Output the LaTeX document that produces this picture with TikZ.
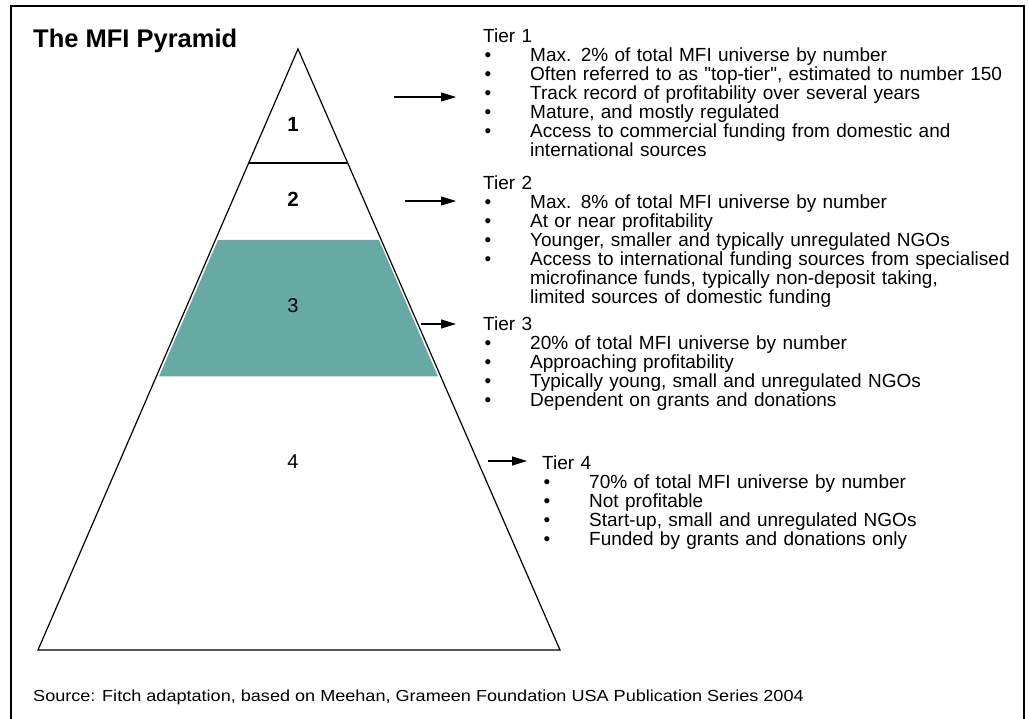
\documentclass[tikz,border=0pt]{standalone}
\usepackage{fontspec}
\setmainfont{Liberation Sans}
% same family without the TeX input mapping, for straight quotes
\newfontfamily\plainq{Liberation Sans}
\usetikzlibrary{arrows.meta}

% one bullet line of a tier description; wrapped lines stay under the text
\newcommand\tieritem[1]{\par\noindent
  \makebox[47pt][l]{\hspace{1.5pt}\textbullet}\parbox[t]{520pt}{\raggedright #1}}
% straight double quote
\newcommand\sq{{\plainq\symbol{34}}}

\definecolor{tierteal}{RGB}{102,170,163}

\begin{document}
\begin{tikzpicture}[x=1pt,y=-1pt,
  tierlist/.style={anchor=base west,inner sep=0pt,text width=580pt,align=left,
    font=\fontsize{19}{19}\selectfont},
  tiernum/.style={anchor=base,inner sep=0pt},
  pointer/.style={line width=1.2pt,-{Triangle[length=15pt,width=9pt]}}]
\useasboundingbox (0,0) rectangle (1029,719);

% frame (open at the bottom)
\draw[line width=2pt] (11,719) -- (11,6.5) -- (1024,6.5) -- (1024,719);

% title
\node[anchor=base west,inner sep=0pt,font=\bfseries\fontsize{25.5}{25.5}\selectfont]
  (title) at (33,48) {The MFI Pyramid};

% pyramid: shaded third tier, then outline and the tier 1/2 divider
\coordinate (apex) at (298,49);
\coordinate (baseL) at (38,650);
\coordinate (baseR) at (560,650);
\fill[tierteal] (218,240) -- (379,240) -- (438,376.5) -- (159,376.5) -- cycle;
\draw[line width=1.2pt,line join=miter] (apex) -- (baseR) -- (baseL) -- cycle;
\draw[line width=1.2pt] (249,163) -- (348,163);

% tier numbers
\node[tiernum,font=\bfseries\fontsize{20.5}{20.5}\selectfont] (n1) at (293,132) {1};
\node[tiernum,font=\bfseries\fontsize{20.5}{20.5}\selectfont] (n2) at (293,207) {2};
\node[tiernum,font=\fontsize{20}{20}\selectfont] (n3) at (293,312.5) {3};
\node[tiernum,font=\fontsize{20}{20}\selectfont] (n4) at (293,468.5) {4};

% tier descriptions
\node[tierlist] (t1) at (483,43) {Tier 1
  \tieritem{Max. 2\% of total MFI universe by number}
  \tieritem{Often referred to as \sq top-tier\sq, estimated to number 150}
  \tieritem{Track record of profitability over several years}
  \tieritem{Mature, and mostly regulated}
  \tieritem{Access to commercial funding from domestic and\newline international sources}};

\node[tierlist] (t2) at (483,190) {Tier 2
  \tieritem{Max. 8\% of total MFI universe by number}
  \tieritem{At or near profitability}
  \tieritem{Younger, smaller and typically unregulated NGOs}
  \tieritem{Access to international funding sources from specialised\newline microfinance funds, typically non-deposit taking,\newline limited sources of domestic funding}};

\node[tierlist] (t3) at (483,331) {Tier 3
  \tieritem{20\% of total MFI universe by number}
  \tieritem{Approaching profitability}
  \tieritem{Typically young, small and unregulated NGOs}
  \tieritem{Dependent on grants and donations}};

\node[tierlist] (t4) at (542,470) {Tier 4
  \tieritem{70\% of total MFI universe by number}
  \tieritem{Not profitable}
  \tieritem{Start-up, small and unregulated NGOs}
  \tieritem{Funded by grants and donations only}};

% pointers from the pyramid to the descriptions
\coordinate (a1s) at (394,97);  \coordinate (a1e) at (456,97);
\coordinate (a2s) at (405,201); \coordinate (a2e) at (456,201);
\coordinate (a3s) at (421,324); \coordinate (a3e) at (456,324);
\coordinate (a4s) at (488,461); \coordinate (a4e) at (527,461);
\draw[pointer] (a1s) -- (a1e);
\draw[pointer] (a2s) -- (a2e);
\draw[pointer] (a3s) -- (a3e);
\draw[pointer] (a4s) -- (a4e);

% source line
\node[anchor=base west,inner sep=0pt,
  font=\addfontfeature{FakeStretch=1.13}\fontsize{16}{16}\selectfont]
  (src) at (33,701) {Source: Fitch adaptation, based on Meehan, Grameen Foundation USA Publication Series 2004};
\end{tikzpicture}
\end{document}
